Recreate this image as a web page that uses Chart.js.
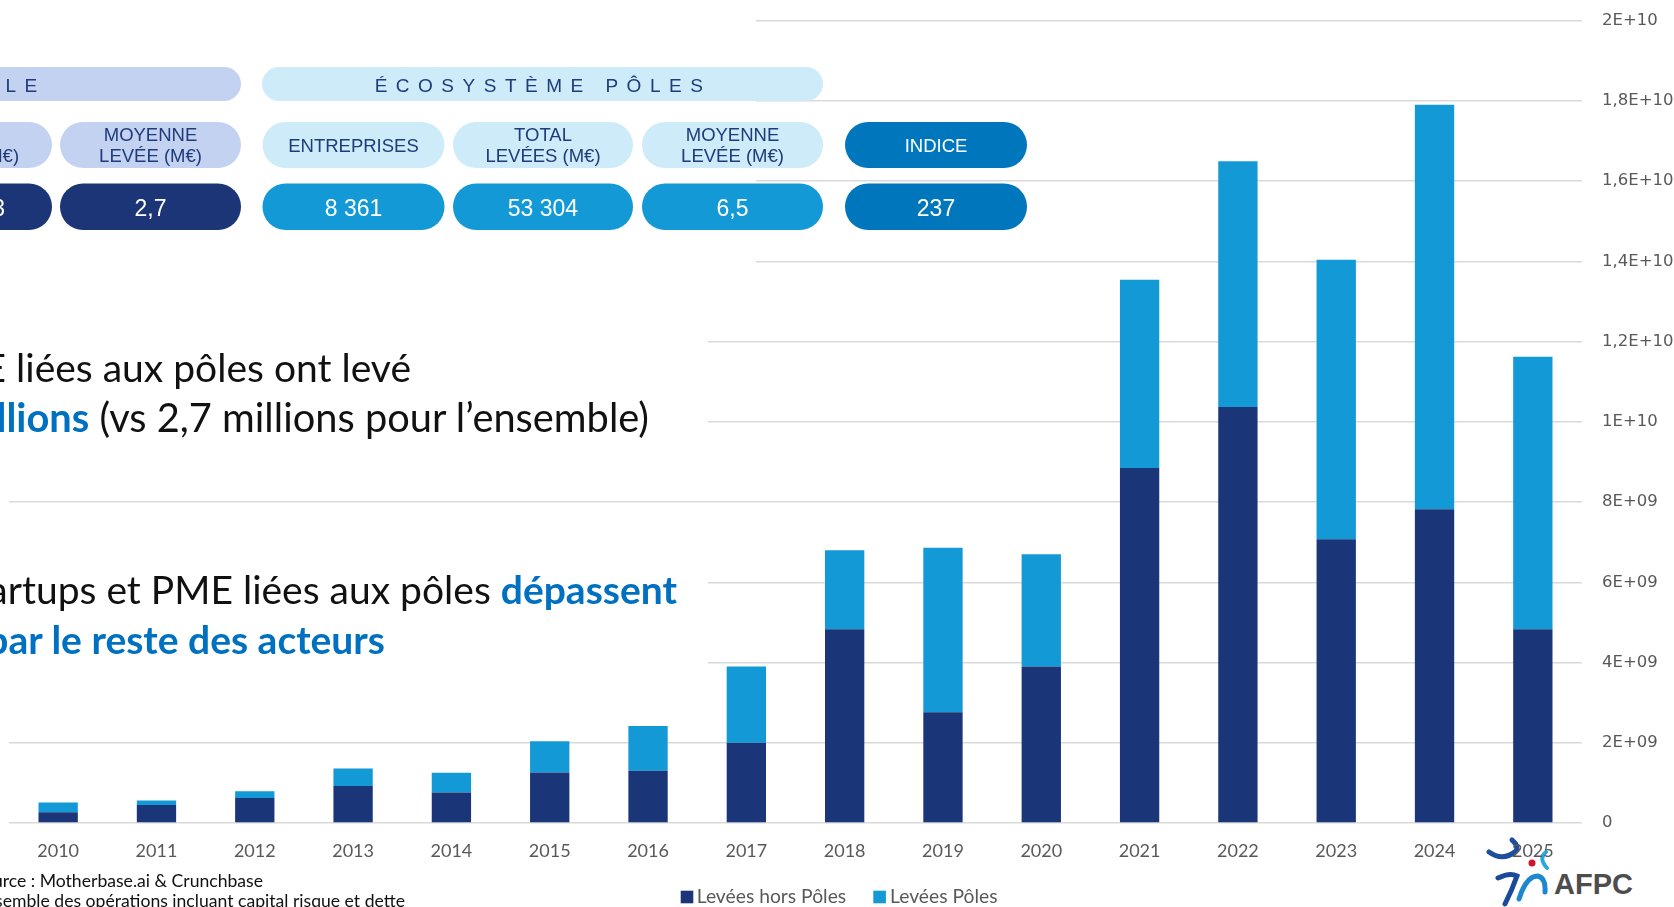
<!DOCTYPE html>
<html lang="fr">
<head>
<meta charset="UTF-8">
<title>Levées de fonds - écosystème pôles</title>
<script src="https://cdn.jsdelivr.net/npm/chart.js"></script>
<style>
  html, body { margin: 0; padding: 0; background: #fff; overflow: hidden; }
  #stage { position: relative; width: 1674px; height: 907px; overflow: hidden; }
  #stage > svg, #stage > canvas { position: absolute; left: 0; top: 0; }
  .hd { font-family: "Liberation Sans", Arial, sans-serif; font-size: 19px; fill: #1f3b7a; letter-spacing: 8.5px; }
  .ph { font-family: "Liberation Sans", Arial, sans-serif; font-size: 18.5px; fill: #1f3b7a; }
  .pw { font-family: "Liberation Sans", Arial, sans-serif; font-size: 18.5px; fill: #fff; }
  .pv { font-family: "Liberation Sans", Arial, sans-serif; font-size: 23px; fill: #fff; }
  .body { font-family: Lato, "Open Sans", sans-serif; font-size: 39px; fill: #111; }
  .blue { fill: #0070c0; font-weight: bold; }
  .src { font-family: Lato, sans-serif; font-size: 17.6px; fill: #111; }
  .leg { font-family: Lato, sans-serif; font-size: 19.3px; fill: #595959; }
</style>
</head>
<body>
<div id="stage">
  <!-- logo sits under the canvas so the 2025 label stays on top -->
  <svg width="1674" height="907">
    <g fill="none" stroke-linecap="round">
      <path d="M1489,852 Q1503,862 1516,851 Q1519,846 1512,840" stroke="#1d4f9c" stroke-width="5"/>
      <path d="M1546,852 Q1538,858 1547,868" stroke="#2aa6df" stroke-width="4"/>
      <path d="M1498,878 Q1510,872 1517,876 Q1512,890 1505,904" stroke="#1b4a9a" stroke-width="5"/>
      <path d="M1519,899 Q1526,876 1538,876 Q1546,878 1545,892" stroke="#1e88cf" stroke-width="5"/>
    </g>
    <circle cx="1532" cy="863" r="3.5" fill="#d3122f"/>
    <text x="1554" y="894" font-family="Liberation Sans, Arial, sans-serif" font-weight="bold" font-size="29" fill="#4d4d4d">AFPC</text>
  </svg>

  <canvas id="chart" width="1674" height="907"></canvas>

  <svg width="1674" height="907">
    <!-- white panels hiding the gridlines behind the text -->
    <rect x="0" y="0" width="756" height="300" fill="#fff"/>
    <rect x="0" y="300" width="708" height="170" fill="#fff"/>
    <rect x="0" y="520" width="708" height="170" fill="#fff"/>

    <!-- header row -->
    <rect x="-318" y="67" width="559" height="34" rx="17" fill="#c4d2f1"/>
    <text class="hd" x="-40" y="91.5" text-anchor="middle">ENSEMBLE</text>
    <rect x="262" y="67" width="561" height="34" rx="17" fill="#cdebf9"/>
    <text class="hd" x="543" y="91.5" text-anchor="middle">ÉCOSYSTÈME PÔLES</text>

    <!-- labels row -->
    <rect x="-129" y="122" width="181" height="46" rx="23" fill="#c4d2f1"/>
    <text class="ph" x="-38.5" y="141" text-anchor="middle">TOTAL</text>
    <text class="ph" x="-38.5" y="162" text-anchor="middle">LEVÉES (M€)</text>
    <rect x="60" y="122" width="181" height="46" rx="23" fill="#c4d2f1"/>
    <text class="ph" x="150.5" y="141" text-anchor="middle">MOYENNE</text>
    <text class="ph" x="150.5" y="162" text-anchor="middle">LEVÉE (M€)</text>
    <rect x="262.5" y="122" width="182" height="46" rx="23" fill="#cdebf9"/>
    <text class="ph" x="353.5" y="151.5" text-anchor="middle">ENTREPRISES</text>
    <rect x="453" y="122" width="180" height="46" rx="23" fill="#cdebf9"/>
    <text class="ph" x="543" y="141" text-anchor="middle">TOTAL</text>
    <text class="ph" x="543" y="162" text-anchor="middle">LEVÉES (M€)</text>
    <rect x="642" y="122" width="181" height="46" rx="23" fill="#cdebf9"/>
    <text class="ph" x="732.5" y="141" text-anchor="middle">MOYENNE</text>
    <text class="ph" x="732.5" y="162" text-anchor="middle">LEVÉE (M€)</text>
    <rect x="845" y="122" width="182" height="46" rx="23" fill="#0077bd"/>
    <text class="pw" x="936" y="151.5" text-anchor="middle">INDICE</text>

    <!-- values row -->
    <rect x="-129" y="183.5" width="181" height="46.5" rx="23" fill="#1b3577"/>
    <text class="pv" x="5" y="216" text-anchor="end">3</text>
    <rect x="60" y="183.5" width="181" height="46.5" rx="23" fill="#1b3577"/>
    <text class="pv" x="150.5" y="216" text-anchor="middle">2,7</text>
    <rect x="262.5" y="183.5" width="182" height="46.5" rx="23" fill="#139ad6"/>
    <text class="pv" x="353.5" y="216" text-anchor="middle">8 361</text>
    <rect x="453" y="183.5" width="180" height="46.5" rx="23" fill="#139ad6"/>
    <text class="pv" x="543" y="216" text-anchor="middle">53 304</text>
    <rect x="642" y="183.5" width="181" height="46.5" rx="23" fill="#139ad6"/>
    <text class="pv" x="732.5" y="216" text-anchor="middle">6,5</text>
    <rect x="845" y="183.5" width="182" height="46.5" rx="23" fill="#0077bd"/>
    <text class="pv" x="936" y="216" text-anchor="middle">237</text>

    <!-- commentary -->
    <text class="body" x="411" y="382" text-anchor="end">Les startups et PME liées aux pôles ont levé</text>
    <text class="body" x="649" y="432" text-anchor="end" style="font-size:39.8px"><tspan class="blue">en moyenne 6,5 millions</tspan> (vs 2,7 millions pour l’ensemble)</text>
    <text class="body" x="677" y="604" text-anchor="end">Depuis 2018, les startups et PME liées aux pôles <tspan class="blue">dépassent</tspan></text>
    <text class="body blue" x="385" y="653.5" text-anchor="end">les montants levés par le reste des acteurs</text>

    <!-- source -->
    <text class="src" x="263" y="887" text-anchor="end">Source : Motherbase.ai &amp; Crunchbase</text>
    <text class="src" x="405" y="907" text-anchor="end">*Ensemble des opérations incluant capital risque et dette</text>

    <!-- legend -->
    <rect x="680.7" y="890.7" width="12.6" height="12.6" fill="#1a3679"/>
    <text class="leg" x="696.7" y="903.3">Levées hors Pôles</text>
    <rect x="873.3" y="890.7" width="12.6" height="12.6" fill="#139ad6"/>
    <text class="leg" x="890" y="903.3">Levées Pôles</text>
  </svg>
</div>

<script>
  const years = ['2010', '2011', '2012', '2013', '2014', '2015', '2016', '2017',
                 '2018', '2019', '2020', '2021', '2022', '2023', '2024', '2025'];

  const leveesHorsPoles = [0.27e9, 0.45e9, 0.62e9, 0.92e9, 0.76e9, 1.26e9, 1.30e9, 2.00e9,
                           4.83e9, 2.76e9, 3.90e9, 8.85e9, 10.37e9, 7.07e9, 7.82e9, 4.83e9];

  const leveesPoles = [0.24e9, 0.11e9, 0.17e9, 0.44e9, 0.49e9, 0.78e9, 1.12e9, 1.90e9,
                       1.97e9, 4.10e9, 2.80e9, 4.69e9, 6.12e9, 6.97e9, 10.08e9, 6.79e9];

  const yTickLabels = ['0', '2E+09', '4E+09', '6E+09', '8E+09', '1E+10',
                       '1,2E+10', '1,4E+10', '1,6E+10', '1,8E+10', '2E+10'];

  const ctx = document.getElementById('chart').getContext('2d');

  new Chart(ctx, {
    type: 'bar',
    data: {
      labels: years,
      datasets: [
        {
          label: 'Levées hors Pôles',
          data: leveesHorsPoles,
          backgroundColor: '#1a3679',
          barPercentage: 0.4,
          categoryPercentage: 1
        },
        {
          label: 'Levées Pôles',
          data: leveesPoles,
          backgroundColor: '#139ad6',
          barPercentage: 0.4,
          categoryPercentage: 1
        }
      ]
    },
    options: {
      responsive: false,
      animation: false,
      layout: { padding: { top: 20.5, left: 9, right: 0, bottom: 0 } },
      plugins: {
        legend: { display: false },
        tooltip: { enabled: false }
      },
      scales: {
        x: {
          stacked: true,
          grid: { display: false },
          border: { display: false },
          ticks: {
            color: '#595959',
            font: { family: 'Lato', size: 18 },
            padding: 9.5,
            maxRotation: 0,
            autoSkip: false
          },
          afterFit: (scale) => { scale.height = 84; }
        },
        y: {
          stacked: true,
          position: 'right',
          min: 0,
          max: 2e10,
          grid: { color: '#d9d9d9', lineWidth: 1.5, drawTicks: false },
          border: { display: false },
          ticks: {
            stepSize: 2e9,
            padding: 20,
            color: '#595959',
            font: { family: 'DejaVu Sans', size: 16.5 },
            callback: (v, i) => yTickLabels[i]
          },
          // tick padding would otherwise push the plot top down
          afterFit: (scale) => {
            scale.width = 92;
            scale.paddingTop = 0;
            scale.paddingBottom = 0;
          }
        }
      }
    }
  });
</script>
</body>
</html>
